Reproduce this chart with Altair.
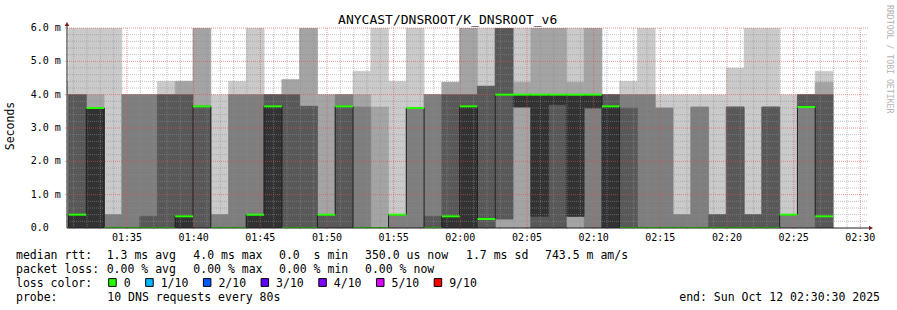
import altair as alt
import pandas as pd
from datetime import datetime, timezone, timedelta

# ---------------- data ----------------
TITLE = "ANYCAST/DNSROOT/K_DNSROOT_v6"
WINDOW_START = datetime(2025, 10, 12, 1, 30, 30, tzinfo=timezone.utc)
WINDOW_END = datetime(2025, 10, 12, 2, 30, 30, tzinfo=timezone.utc)
FIRST_STEP = datetime(2025, 10, 12, 1, 29, 17, tzinfo=timezone.utc)  # first (partly hidden) step
STEP_S = 80

# 10 ping round-trip times (ms) per 80 s step, one list per step
pings_ms = [
    [0, 0, 0, 0, 0, 0, 0, 0, 0, 4.4],
    [0, 0, 0, 0, 0, 0.4, 4.0, 4.0, 4.0, 6.5],
    [0, 0, 0, 0, 0, 3.6, 3.6, 3.6, 4.0, 6.5],
    [0, 0, 0, 0, 0, 0, 0, 0.4, 0.4, 6.5],
    [0, 0, 0, 0, 0, 0, 0, 4.0, 4.0, 4.0],
    [0, 0, 0, 0, 0, 0, 0.35, 4.0, 4.0, 4.0],
    [0, 0, 0, 0, 0, 0, 4.0, 4.0, 4.0, 4.4],
    [0, 0, 0, 0, 0, 0.35, 4.0, 4.0, 4.4, 4.4],
    [0, 0, 0, 0, 3.65, 3.65, 3.65, 3.65, 6.5, 6.5],
    [0, 0, 0, 0, 0, 0, 0, 0.4, 0.4, 4.0],
    [0, 0, 0, 0, 0, 0, 0, 4.0, 4.0, 4.4],
    [0, 0, 0, 0, 0, 0.4, 0.4, 4.0, 4.0, 6.5],
    [0, 0, 0, 0, 0, 3.65, 4.0, 4.0, 4.0, 4.0],
    [0, 0, 0, 0, 0, 0, 4.0, 4.0, 4.45, 4.45],
    [0, 0, 0, 0, 0, 0, 3.65, 3.65, 6.5, 6.5],
    [0, 0, 0, 0, 0.4, 0.4, 0.4, 0.4, 4.0, 4.0],
    [0, 0, 0, 0, 3.65, 3.65, 3.65, 4.0, 4.0, 4.0],
    [0, 0, 0, 0, 0, 0, 0, 3.63, 4.0, 4.7],
    [0, 0, 0, 0, 0, 0, 0, 0, 3.63, 6.5],
    [0, 0, 0, 0.4, 0.4, 0.4, 0.4, 0.4, 0.4, 4.4],
    [0, 0, 0, 3.6, 3.6, 3.6, 3.6, 3.6, 3.6, 6.5],
    [0, 0, 0, 0, 0, 0, 0.35, 4.0, 4.0, 4.0],
    [0, 0, 0, 0, 0, 0.35, 4.0, 4.0, 4.37, 4.37],
    [0, 0, 0, 0, 0, 3.65, 4.0, 4.0, 6.5, 6.5],
    [0, 0, 0, 0, 0.27, 0.27, 4.25, 4.25, 4.25, 6.5],
    [0, 0, 0.27, 0.27, 4.0, 4.0, 6.5, 6.5, 6.5, 6.5],
    [0, 0, 3.63, 3.63, 3.63, 4.0, 4.0, 4.0, 4.37, 6.5],
    [0, 0, 0, 0, 0.35, 4.0, 4.0, 4.0, 6.5, 6.5],
    [0, 0, 0, 0, 3.7, 4.0, 4.0, 4.0, 6.5, 6.5],
    [0, 0, 0.35, 0.35, 0.35, 4.0, 4.0, 4.0, 4.37, 6.5],
    [0, 0, 0, 3.6, 3.6, 4.0, 4.0, 4.0, 6.5, 6.5],
    [0, 0, 0, 0, 0, 3.65, 4.0, 4.0, 4.0, 4.0],
    [0, 0, 0, 0, 0, 0, 3.6, 4.0, 4.0, 4.4],
    [0, 0, 0, 0, 0, 0, 0, 4.0, 4.0, 6.5],
    [0, 0, 0, 0, 0, 0, 0, 3.6, 3.6, 4.0],
    [0, 0, 0, 0, 0, 0, 0, 0.4, 0.4, 4.0],
    [0, 0, 0, 0, 0, 0, 0, 3.63, 3.63, 4.0],
    [0, 0, 0, 0, 0, 0, 0.4, 0.4, 0.4, 4.0],
    [0, 0, 0, 0, 0, 0, 3.63, 3.63, 3.63, 4.8],
    [0, 0, 0, 0, 0, 0, 0.4, 0.4, 0.4, 6.5],
    [0, 0, 0, 0, 0, 0, 3.63, 3.63, 3.63, 6.5],
    [0, 0, 0, 0.4, 0.4, 0.4, 0.4, 0.4, 0.4, 4.0],
    [0, 0, 0, 3.63, 3.63, 3.63, 4.0, 4.0, 4.0, 4.0],
    [0, 0, 0, 0, 0.35, 0.35, 4.0, 4.0, 4.37, 4.7],
]

# median rtt (ms) per step (green marks)
median_ms = [0, 0.4, 3.6, 0, 0, 0, 0, 0.35, 3.65, 0, 0, 0.4, 3.65, 0, 0, 0.4, 3.65,
             0, 0, 0.4, 3.6, 0, 0.35, 3.65, 0.27, 4.0, 4.0, 4.0, 4.0, 4.0, 4.0, 3.65,
             0, 0, 0, 0, 0, 0, 0, 0, 0, 0.4, 3.63, 0.35]

y_tick_values = [0, 1, 2, 3, 4, 5, 6]
y_tick_labels = ["0.0", "1.0 m", "2.0 m", "3.0 m", "4.0 m", "5.0 m", "6.0 m"]
x_tick_labels = ["01:35", "01:40", "01:45", "01:50", "01:55", "02:00",
                 "02:05", "02:10", "02:15", "02:20", "02:25", "02:30"]

smoke_colors = ["#cacaca", "#a4a4a4", "#7e7e7e", "#585858", "#323232"]

row_median = ["median rtt:", "1.3 ms avg", "4.0 ms max", "0.0  s min",
              "350.0 us now", "1.7 ms sd", "743.5 m am/s"]
row_loss = ["packet loss:", "0.00 % avg", "0.00 % max", "0.00 % min", "0.00 % now"]
loss_labels = ["0", "1/10", "2/10", "3/10", "4/10", "5/10", "9/10"]
loss_colors = ["#26ff00", "#00b8ff", "#0059ff", "#5e00ff", "#7e00ff", "#dd00ff", "#ff0000"]
probe_text = "10 DNS requests every 80s"
end_text = "end: Sun Oct 12 02:30:30 2025"
watermark = "RRDTOOL / TOBI OETIKER"

# ---------------- layout constants ----------------
PL, PT = 67, 28          # plot origin in the page
W, H = 800, 200
FONT = "DejaVu Sans Mono"
NBSP = "\u00a0"


def ms(dt):
    return int(dt.timestamp() * 1000)


def keep_spaces(s):
    return s.replace("  ", " " + NBSP)


T0, T1 = ms(WINDOW_START), ms(WINDOW_END)
step_start = [ms(FIRST_STEP + timedelta(seconds=STEP_S * k)) for k in range(len(pings_ms))]
step_end = [s + STEP_S * 1000 for s in step_start]

xscale = alt.Scale(domain=[T0, T1], nice=False, zero=False)
yscale = alt.Scale(domain=[0, 6], nice=False, zero=True)

# smoke bands (outer pairs light, inner dark)
rows = []
for j in range(5):
    for k, p in enumerate(pings_ms):
        s = sorted(p)
        lo, hi = s[j], s[9 - j]
        if hi > lo:
            rows.append({"t0": step_start[k], "t1": step_end[k], "lo": lo, "hi": hi,
                         "band": f"b{j}"})
smoke_df = pd.DataFrame(rows)

x_tick_values = []
for lab in x_tick_labels:
    hh, mm = map(int, lab.split(":"))
    x_tick_values.append(ms(datetime(2025, 10, 12, hh, mm, tzinfo=timezone.utc)))

band_scale = alt.Scale(domain=[f"b{j}" for j in range(5)], range=smoke_colors)
smoke = alt.Chart(smoke_df).mark_rect(clip=True, strokeWidth=0.6).encode(
    x=alt.X("t0:Q", scale=xscale, axis=None),
    x2="t1:Q",
    y=alt.Y("lo:Q", scale=yscale, axis=None),
    y2="hi:Q",
    fill=alt.Fill("band:N", scale=band_scale, legend=None),
    stroke=alt.Stroke("band:N", scale=band_scale, legend=None),
)

# median step line
med_df = pd.DataFrame({"t": step_start + [step_end[-1]],
                       "med": median_ms + [median_ms[-1]]})
med_line = alt.Chart(med_df).mark_line(interpolate="step-after", color="#202020",
                                       strokeWidth=1, clip=True).encode(
    x=alt.X("t:Q", scale=xscale, axis=None),
    y=alt.Y("med:Q", scale=yscale, axis=None),
)

green_df = pd.DataFrame({"t0": step_start, "t1": step_end, "med": median_ms})
green = alt.Chart(green_df).transform_calculate(
    glo="datum.med - 0.03", ghi="datum.med + 0.03"
).mark_rect(color="#26ff00", clip=True).encode(
    x=alt.X("t0:Q", scale=xscale, axis=None), x2="t1:Q",
    y=alt.Y("glo:Q", scale=yscale, axis=None), y2="ghi:Q",
)

# grid (drawn on top, rrdtool style dotted)
vminor, vmajor = [], []
for m in range(60):
    t = WINDOW_START + timedelta(seconds=30 + 60 * m)
    (vmajor if t.minute % 5 == 0 else vminor).append(ms(t))
hminor = [round(i * 0.2, 1) for i in range(1, 31) if i % 5 != 0]
hmajor = [float(i) for i in range(1, 7)]


def vgrid(vals, color, opacity, ext):
    return alt.Chart(pd.DataFrame({"t": vals})).mark_rule(
        color=color, opacity=opacity, strokeDash=[1, 1], strokeWidth=1).encode(
        x=alt.X("t:Q", scale=xscale, axis=None),
        y=alt.value(0), y2=alt.value(H + ext))


def hgrid(vals, color, opacity, ext):
    return alt.Chart(pd.DataFrame({"v": vals})).mark_rule(
        color=color, opacity=opacity, strokeDash=[1, 1], strokeWidth=1).encode(
        y=alt.Y("v:Q", scale=yscale, axis=None),
        x=alt.value(-ext), x2=alt.value(W + ext))


grid = [vgrid(vminor, "#8f8f8f", 0.55, 1), hgrid(hminor, "#8f8f8f", 0.55, 1),
        vgrid(vmajor, "#de5050", 0.6, 2), hgrid(hmajor, "#de5050", 0.6, 2)]

# tick labels placed through the scales
y_labels = alt.Chart(pd.DataFrame({"v": y_tick_values, "lab": y_tick_labels})).mark_text(
    font=FONT, fontSize=10, align="left", baseline="middle", color="#000000").encode(
    y=alt.Y("v:Q", scale=yscale, axis=None), x=alt.value(30.7 - PL), text="lab:N")
x_labels = alt.Chart(pd.DataFrame({"t": x_tick_values, "lab": x_tick_labels})).mark_text(
    font=FONT, fontSize=10, align="center", baseline="alphabetic", color="#000000").encode(
    x=alt.X("t:Q", scale=xscale, axis=None), y=alt.value(241 - PT), text="lab:N")

one = pd.DataFrame({"a": [0]})
axis_color = "#1f1f1f"
y_axis_line = alt.Chart(one).mark_rule(color=axis_color, strokeWidth=1).encode(
    x=alt.value(0), y=alt.value(-3), y2=alt.value(H))
x_axis_line = alt.Chart(one).mark_rule(color=axis_color, strokeWidth=1).encode(
    x=alt.value(0), x2=alt.value(W + 3), y=alt.value(H))
arrow_up = alt.Chart(one).mark_point(shape="triangle-up", filled=True, size=22,
                                     color="#7f1f1f", opacity=1).encode(
    x=alt.value(0), y=alt.value(-4))
arrow_right = alt.Chart(one).mark_point(shape="triangle-right", filled=True, size=22,
                                        color="#7f1f1f", opacity=1).encode(
    x=alt.value(W + 4), y=alt.value(H))


def txt(text, x, y, size=11.5, align="left", baseline="alphabetic", angle=0,
        color="#000000"):
    return alt.Chart(pd.DataFrame({"s": [keep_spaces(text)]})).mark_text(
        font=FONT, fontSize=size, align=align, baseline=baseline, angle=angle,
        color=color).encode(x=alt.value(x - PL), y=alt.value(y - PT), text="s:N")


texts = [
    txt(TITLE, 447.7, 24, size=13, align="center"),
    txt("Seconds", 11, 126, size=11.5, align="center", baseline="middle", angle=270),
    txt(watermark, 889, 5, size=8.2, align="left", baseline="middle", angle=90,
        color="#b4b4b4"),
]
row_x = [16, 106.7, 193.3, 279, 365, 466, 545]
BASE = [258.7, 272.7, 286.7, 300.7]
for s, x in zip(row_median, row_x):
    texts.append(txt(s, x, BASE[0]))
for s, x in zip(row_loss, row_x):
    texts.append(txt(s, x, BASE[1]))
texts.append(txt("loss color:", 16, BASE[2]))
texts.append(txt("probe:", 16, BASE[3]))
texts.append(txt(probe_text, 107.3, BASE[3]))
texts.append(txt(end_text, 880, BASE[3], align="right"))

boxes = []
bx = 108.7
for lab, col in zip(loss_labels, loss_colors):
    boxes.append(alt.Chart(one).mark_rect(fill=col, stroke="#000000",
                                          strokeWidth=1).encode(
        x=alt.value(bx - PL), x2=alt.value(bx + 7.5 - PL),
        y=alt.value(278.6 - PT), y2=alt.value(286.4 - PT)))
    texts.append(txt(lab, bx + 15, BASE[2]))
    bx = bx + 15 + len(lab) * 6.9 + 15.1

chart = alt.layer(
    smoke, *grid, med_line, green, y_axis_line, x_axis_line, arrow_up, arrow_right,
    y_labels, x_labels, *boxes, *texts
).properties(
    width=W, height=H,
    padding={"left": PL, "top": PT, "right": 897 - PL - W, "bottom": 310 - PT - H},
    autosize=alt.AutoSizeParams(type="none"),
    background="#ffffff",
).configure_view(stroke=None)

chart.save("out.html", embed_options={"renderer": "svg", "actions": False})
